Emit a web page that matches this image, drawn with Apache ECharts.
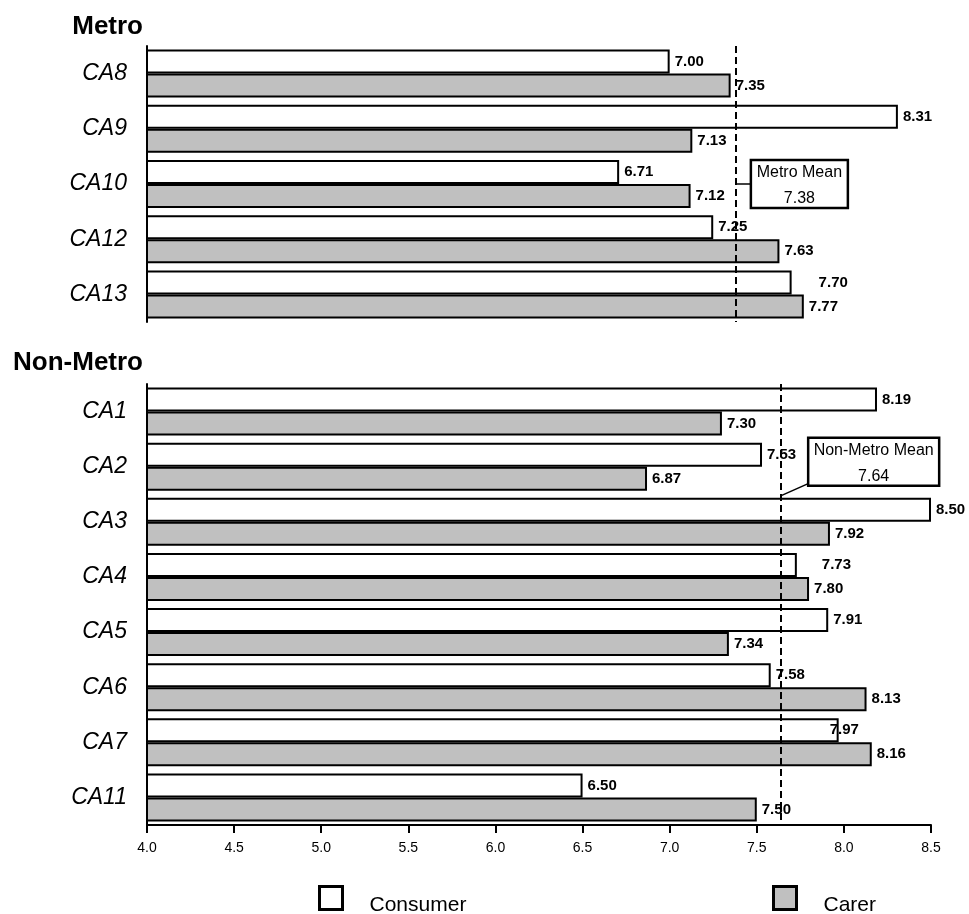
<!DOCTYPE html>
<html>
<head>
<meta charset="utf-8">
<script src="https://cdn.jsdelivr.net/npm/echarts@6/dist/echarts.min.js"></script>
<style>
  html, body { margin: 0; padding: 0; background: #fff; }
  #chart { width: 969px; height: 914px; }
</style>
</head>
<body>
<div id="chart"></div>
<script>
// Regional scores, consumer vs carer
const metroCategories = ['CA8', 'CA9', 'CA10', 'CA12', 'CA13'];
const metroConsumer = [7.00, 8.31, 6.71, 7.25, 7.70];
const metroCarer = [7.35, 7.13, 7.12, 7.63, 7.77];
const metroMean = 7.38;

const nonMetroCategories = ['CA1', 'CA2', 'CA3', 'CA4', 'CA5', 'CA6', 'CA7', 'CA11'];
const nonMetroConsumer = [8.19, 7.53, 8.50, 7.73, 7.91, 7.58, 7.97, 6.50];
const nonMetroCarer = [7.30, 6.87, 7.92, 7.80, 7.34, 8.13, 8.16, 7.50];
const nonMetroMean = 7.64;

const axisMin = 4.0;
const axisMax = 8.5;
const axisStep = 0.5;

// small label shifts where labels would crowd
const labelShift = {
  'metro-consumer-CA13': [22, 0],
  'nonmetro-consumer-CA4': [20, 0],
  'nonmetro-consumer-CA7': [-14, 0]
};

const FONT = 'Liberation Sans, Arial, sans-serif';

function barData(values, cats, key) {
  return values.map((v, i) => {
    const item = { value: v };
    const s = labelShift[key + '-' + cats[i]];
    if (s) item.label = { offset: s };
    return item;
  });
}

function barSeries(name, values, cats, key, idx, fill) {
  return {
    name: name,
    type: 'bar',
    xAxisIndex: idx,
    yAxisIndex: idx,
    data: barData(values, cats, key),
    barWidth: 24,
    barGap: '0%',
    itemStyle: { color: fill, borderColor: '#000', borderWidth: 2 },
    label: {
      show: true,
      position: 'right',
      distance: 5,
      color: '#000',
      fontFamily: FONT,
      fontWeight: 'bold',
      fontSize: 15,
      formatter: p => p.value.toFixed(2)
    },
    emphasis: { disabled: true },
    animation: false
  };
}

function meanLine(idx, value) {
  return {
    type: 'line',
    xAxisIndex: idx,
    yAxisIndex: idx,
    data: [],
    markLine: {
      silent: true,
      symbol: ['none', 'none'],
      label: { show: false },
      lineStyle: { color: '#000', width: 2, type: [7, 4] },
      data: [{ xAxis: value }]
    },
    animation: false
  };
}

const yAxisBase = (cats) => ({
  type: 'category',
  data: cats,
  inverse: true,
  axisLine: { show: true, lineStyle: { color: '#000', width: 2 } },
  axisTick: { show: false },
  axisLabel: {
    color: '#000', fontFamily: FONT, fontStyle: 'italic', fontSize: 23, margin: 20
  },
  splitLine: { show: false }
});

const legendBase = (name, left) => ({
  data: [name],
  top: 885,
  left: left,
  padding: 0,
  itemWidth: 23,
  itemHeight: 23,
  icon: 'rect',
  selectedMode: false,
  itemStyle: { borderColor: '#000', borderWidth: 3 },
  formatter: n => '{t|' + n + '}',
  textStyle: {
    fontFamily: FONT, fontSize: 21, color: '#000',
    rich: { t: { fontFamily: FONT, fontSize: 21, color: '#000', padding: [14, 0, 0, 22] } }
  }
});

const chart = echarts.init(document.getElementById('chart'), null, { renderer: 'canvas' });

const option = {
  backgroundColor: '#fff',
  animation: false,
  grid: [
    { left: 147, right: 38, top: 46, height: 276 },
    { left: 147, right: 38, top: 384, height: 441 }
  ],
  xAxis: [
    {
      gridIndex: 0, type: 'value', min: axisMin, max: axisMax, interval: axisStep,
      axisLine: { show: false }, axisTick: { show: false },
      axisLabel: { show: false }, splitLine: { show: false }
    },
    {
      gridIndex: 1, type: 'value', min: axisMin, max: axisMax, interval: axisStep,
      axisLine: { show: true, onZero: false, lineStyle: { color: '#000', width: 2 } },
      axisTick: { show: true, length: 8, lineStyle: { color: '#000', width: 2 } },
      axisLabel: {
        color: '#000', fontFamily: FONT, fontSize: 14, margin: 16,
        formatter: v => v.toFixed(1)
      },
      splitLine: { show: false }
    }
  ],
  yAxis: [
    Object.assign({ gridIndex: 0 }, yAxisBase(metroCategories)),
    Object.assign({ gridIndex: 1 }, yAxisBase(nonMetroCategories))
  ],
  legend: [legendBase('Consumer', 318), legendBase('Carer', 772)],
  series: [
    barSeries('Consumer', metroConsumer, metroCategories, 'metro-consumer', 0, '#fff'),
    barSeries('Carer', metroCarer, metroCategories, 'metro-carer', 0, '#c0c0c0'),
    barSeries('Consumer', nonMetroConsumer, nonMetroCategories, 'nonmetro-consumer', 1, '#fff'),
    barSeries('Carer', nonMetroCarer, nonMetroCategories, 'nonmetro-carer', 1, '#c0c0c0'),
    meanLine(0, metroMean),
    meanLine(1, nonMetroMean)
  ]
};

chart.setOption(option);

// Panel headings, right-aligned to the category axis
function heading(text, y) {
  return {
    type: 'text', z: 100,
    style: {
      x: 143, y: y, text: text, align: 'right', verticalAlign: 'middle',
      font: 'bold 26px ' + FONT, fill: '#000'
    }
  };
}

// Mean annotation boxes, anchored to the mean lines via the axis scales
function meanBox(idx, value, label, rowCat, dx, w, connector) {
  const lineX = chart.convertToPixel({ xAxisIndex: idx }, value);
  const rowY = chart.convertToPixel({ yAxisIndex: idx }, rowCat);
  const h = 48;
  const bx = lineX + dx;
  const by = rowY - h / 2 + connector.boxDy;
  const els = [
    {
      type: 'rect', z: 100,
      shape: { x: bx, y: by, width: w, height: h },
      style: { fill: '#fff', stroke: '#000', lineWidth: 2.5 }
    },
    {
      type: 'text', z: 101,
      style: {
        x: bx + w / 2, y: by + 13, text: label, align: 'center', verticalAlign: 'middle',
        font: '16px ' + FONT, fill: '#000'
      }
    },
    {
      type: 'text', z: 101,
      style: {
        x: bx + w / 2, y: by + 39, text: value.toFixed(2), align: 'center', verticalAlign: 'middle',
        font: '16px ' + FONT, fill: '#000'
      }
    }
  ];
  if (connector.kind === 'flat') {
    els.push({
      type: 'line', z: 99,
      shape: { x1: lineX, y1: by + h / 2, x2: bx, y2: by + h / 2 },
      style: { stroke: '#000', lineWidth: 1.5 }
    });
  } else {
    els.push({
      type: 'line', z: 99,
      shape: { x1: lineX, y1: by + h + 10, x2: bx, y2: by + h - 2 },
      style: { stroke: '#000', lineWidth: 1.5 }
    });
  }
  return els;
}

chart.setOption({
  graphic: [].concat(
    [heading('Metro', 27), heading('Non-Metro', 363)],
    meanBox(0, metroMean, 'Metro Mean', 'CA10', 15, 97, { kind: 'flat', boxDy: 0 }),
    meanBox(1, nonMetroMean, 'Non-Metro Mean', 'CA2', 27, 131, { kind: 'diag', boxDy: -5 })
  )
});
</script>
</body>
</html>
